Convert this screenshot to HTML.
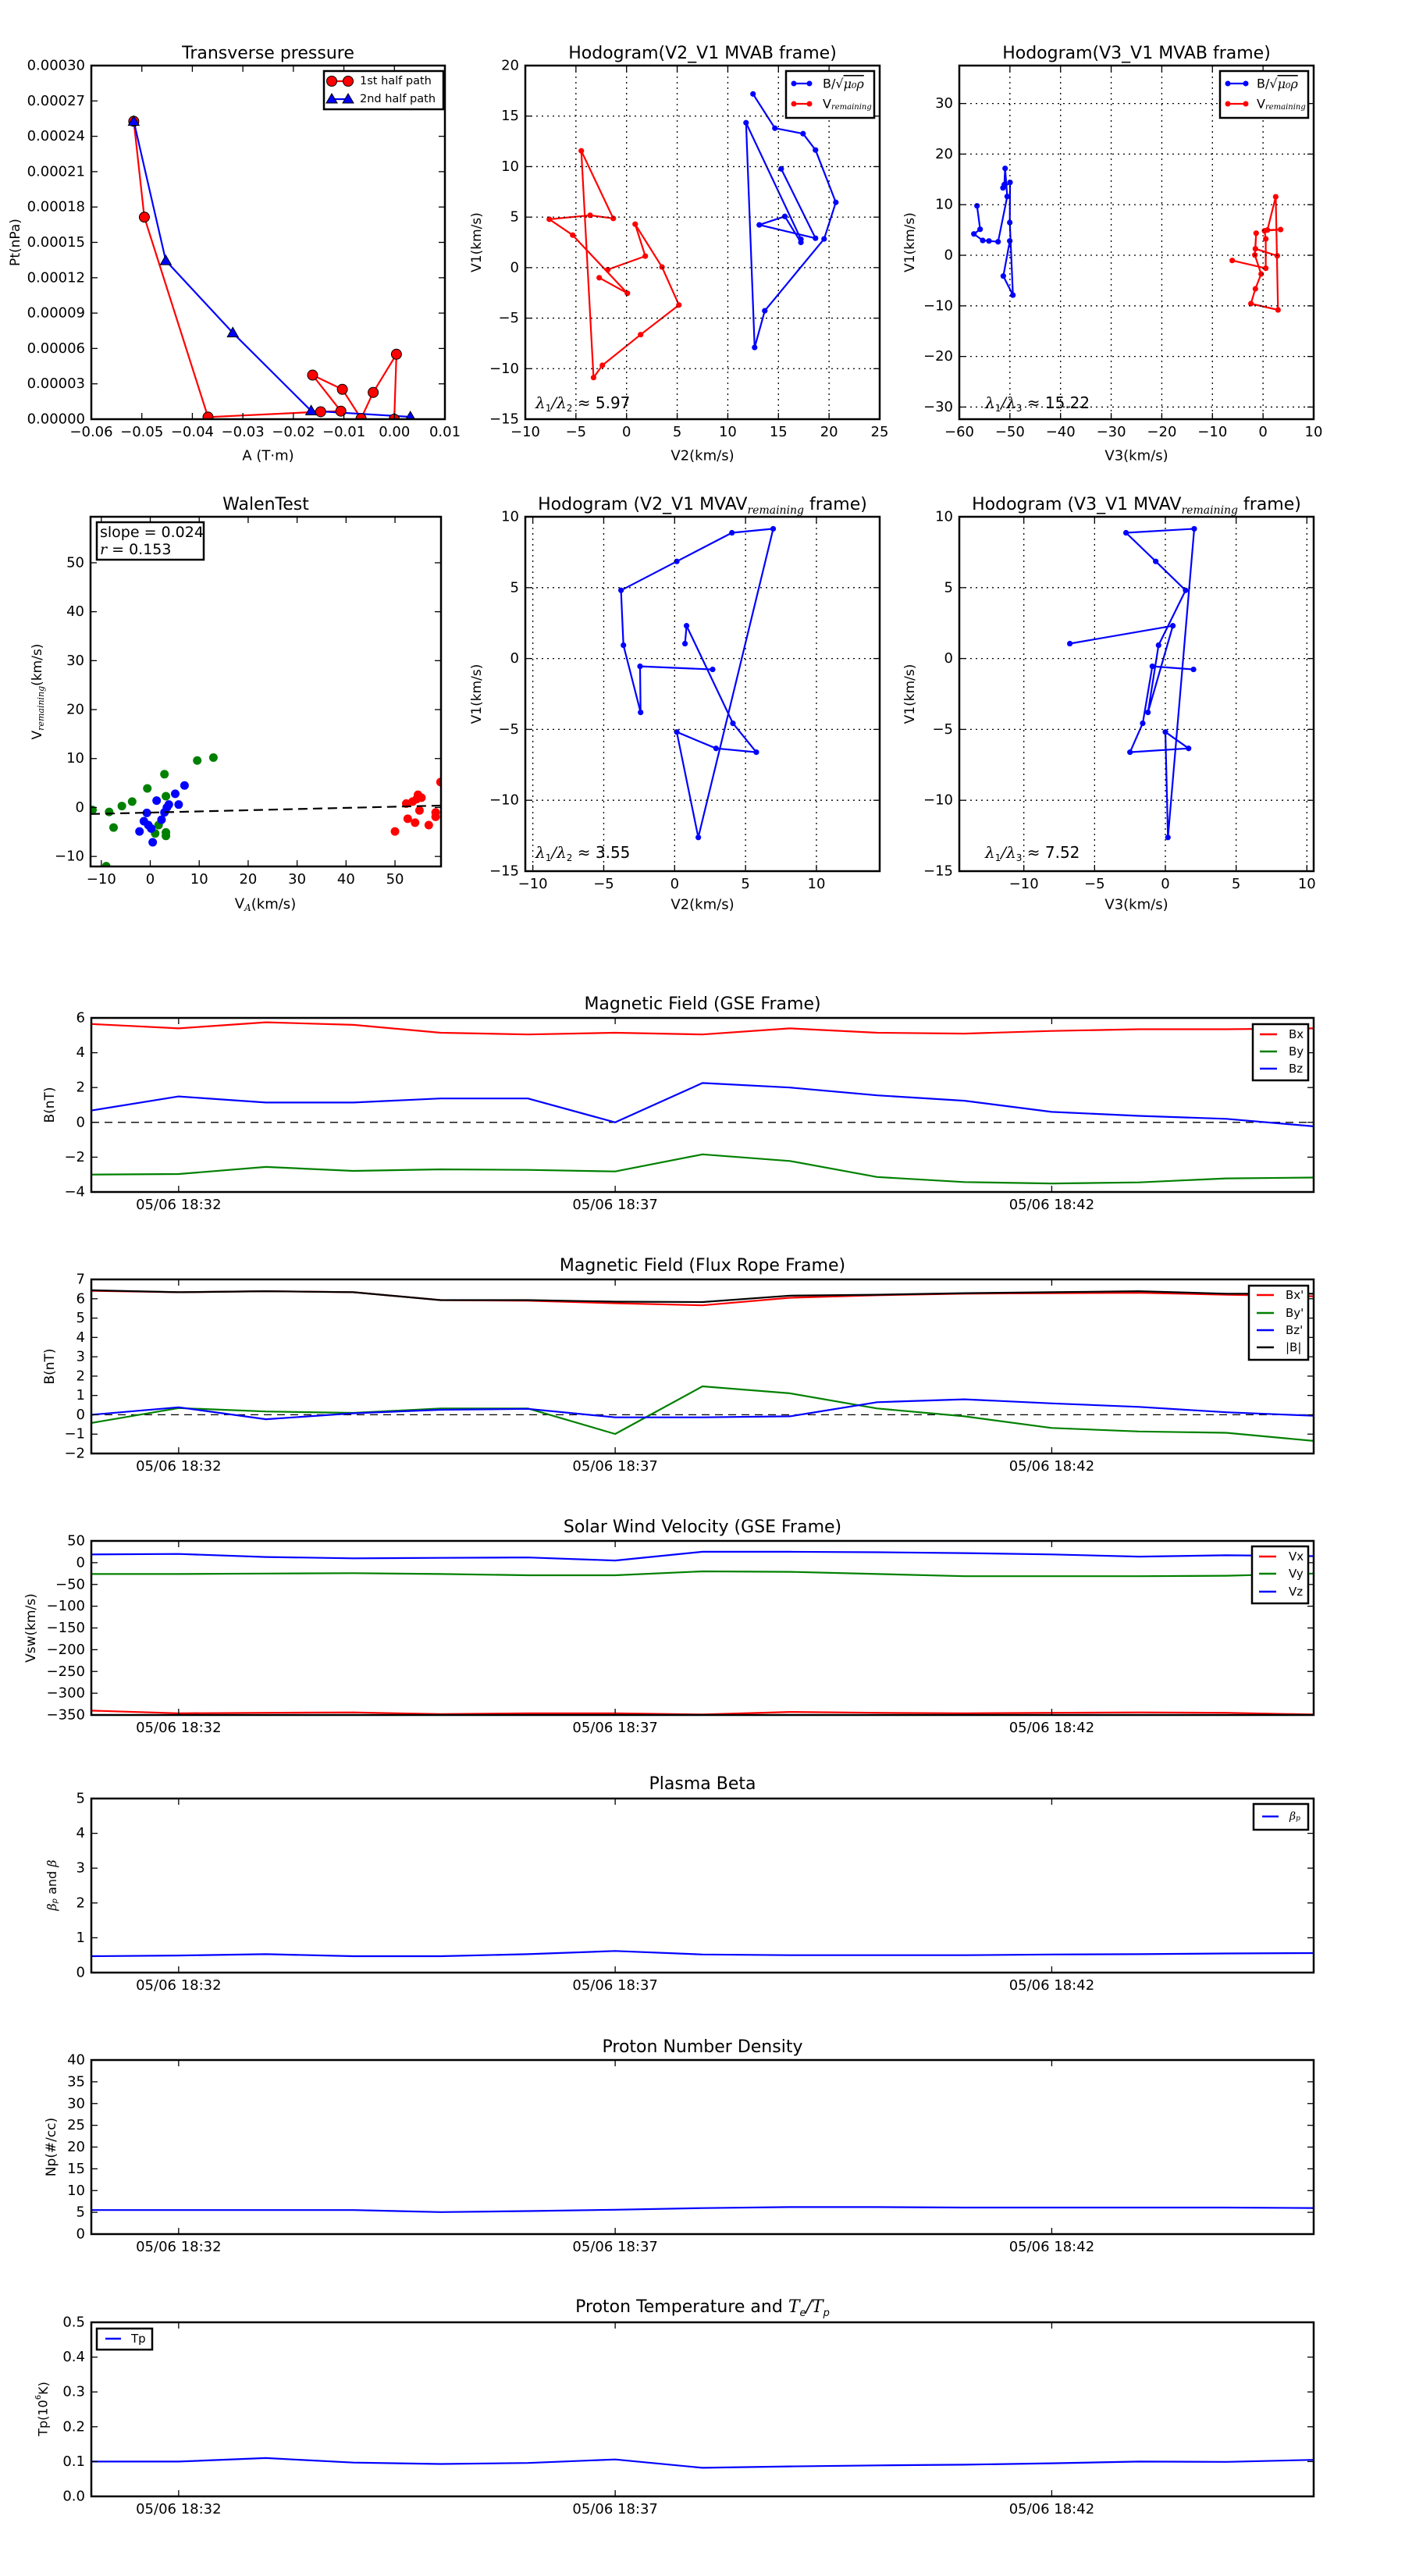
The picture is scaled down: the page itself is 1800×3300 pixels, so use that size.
<!DOCTYPE html>
<html><head><meta charset="utf-8"><title>Flux rope analysis</title>
<style>
html,body{margin:0;padding:0;background:#fff;}
svg{display:block;font-family:"DejaVu Sans","Liberation Sans",sans-serif;}
</style></head>
<body>
<svg id="chart" xmlns="http://www.w3.org/2000/svg" width="1800" height="3300" viewBox="0 0 1800 3300">
<rect x="0" y="0" width="1800" height="3300" fill="#fff"/>
</svg>
<script>
// ---------- data ----------
const tpA1 = [-0.0516,-0.0495,-0.0369,-0.0146,-0.0106,-0.0162,-0.0103,-0.0066,-0.0042,0.0004,-0.00003];
const tpP1 = [0.0002527,0.0001714,0.0000018,0.0000063,0.0000068,0.0000374,0.0000253,0.0000005,0.0000227,0.0000551,0.0];
const tpA2 = [-0.0516,-0.04526,-0.0320,-0.01648,0.00316];
const tpP2 = [0.0002527,0.0001345,0.0000733,0.0000071,0.0000020];

const h1BlueX = [12.49,14.65,17.43,18.66,20.67,19.51,13.65,12.65,11.8,17.22,17.22,15.63,13.11,18.66,15.27];
const h1BlueY = [17.19,13.8,13.26,11.64,6.46,2.84,-4.27,-7.9,14.34,2.81,2.5,5.07,4.23,2.91,9.78];
const h1RedX = [-2.7,0.08,-5.32,-7.63,-3.6,-1.31,-4.47,-3.26,-2.39,1.39,5.17,3.5,0.85,1.85,-1.85];
const h1RedY = [-1.0,-2.54,3.22,4.79,5.18,4.87,11.56,-10.88,-9.67,-6.63,-3.7,0.06,4.3,1.14,-0.2];

const h2BlueX = [-56.5,-55.89,-57.12,-55.37,-54.14,-52.34,-50.54,-50.95,-51.11,-51.37,-49.98,-50.03,-49.41,-51.31,-50.03];
const h2BlueY = [9.77,5.14,4.22,2.93,2.83,2.67,11.62,17.17,13.98,13.32,14.4,6.48,-7.87,-4.11,2.83];
const h2RedX = [-6.09,0.54,0.54,0.29,3.47,0.85,2.5,2.96,-2.39,-1.51,-0.38,-1.62,-1.36,-1.51,2.81];
const h2RedY = [-1.03,-2.57,3.24,4.83,5.09,4.99,11.57,-10.8,-9.56,-6.63,-3.7,0.05,4.37,1.29,-0.1];

const walGreenX = [-11.8,-8.4,-7.5,-5.8,-3.7,-0.6,2.9,3.2,1.7,1.0,3.2,3.2,9.6,12.9,-9.0];
const walGreenY = [-0.5,-0.9,-4.1,0.3,1.2,3.9,6.8,2.3,-3.6,-5.3,-5.1,-5.8,9.6,10.2,-12.0];
const walBlueX = [-2.2,-1.3,-0.7,-0.4,0.2,0.5,1.3,2.3,2.9,3.4,3.8,5.1,5.8,7.0];
const walBlueY = [-4.9,-2.8,-1.1,-3.6,-4.3,-7.1,1.4,-2.5,-1.0,0.0,0.6,2.8,0.6,4.5];
const walRedX = [50.0,52.3,52.6,53.6,54.1,54.4,54.7,55.4,55.0,56.9,58.3,58.3,59.3];
const walRedY = [-4.9,0.8,-2.3,1.2,-3.1,1.7,2.6,2.0,-0.6,-3.6,-1.0,-1.9,5.2];
const walSlope = 0.024;
const walIntercept = -1.04;

const h3X = [0.73,0.84,4.11,5.76,2.92,0.15,1.67,6.95,4.04,0.15,-3.78,-3.61,-2.4,-2.44,2.68];
const h3Y = [1.05,2.31,-4.57,-6.61,-6.34,-5.18,-12.62,9.15,8.87,6.85,4.81,0.94,-3.8,-0.55,-0.77];
const h4X = [-6.75,0.53,-1.23,-0.48,1.43,-0.68,-2.78,2.04,0.18,0.0,1.64,-2.5,-1.6,-0.92,1.99];
const h4Y = [1.05,2.31,-3.8,0.94,4.81,6.85,8.87,9.15,-12.62,-5.18,-6.34,-6.61,-4.57,-0.55,-0.77];

const times = ['18:31','18:32','18:33','18:34','18:35','18:36','18:37','18:38','18:39','18:40','18:41','18:42','18:43','18:44','18:45'];
const timeTickLabels = ['05/06 18:32','05/06 18:37','05/06 18:42'];
const timeTickIdx = [1,6,11];
const bx = [5.65,5.4,5.75,5.6,5.15,5.05,5.15,5.05,5.4,5.15,5.1,5.25,5.35,5.35,5.4];
const by = [-3.0,-2.97,-2.56,-2.79,-2.7,-2.73,-2.82,-1.84,-2.22,-3.14,-3.43,-3.51,-3.45,-3.22,-3.17];
const bz = [0.68,1.49,1.14,1.14,1.37,1.37,0.0,2.26,2.0,1.55,1.24,0.6,0.37,0.2,-0.23];
const bxp = [6.41,6.34,6.39,6.34,5.93,5.9,5.77,5.66,6.05,6.18,6.26,6.29,6.31,6.21,6.13];
const byp = [-0.42,0.35,0.17,0.1,0.33,0.33,-0.99,1.47,1.11,0.33,-0.08,-0.68,-0.86,-0.93,-1.35];
const bzp = [0.0,0.39,-0.23,0.08,0.26,0.31,-0.13,-0.13,-0.08,0.65,0.8,0.59,0.41,0.13,-0.05];
const bmag = [6.44,6.34,6.39,6.34,5.93,5.93,5.85,5.83,6.16,6.21,6.29,6.34,6.39,6.26,6.26];
const vx = [-340,-346,-345,-344,-348,-346,-346,-349,-343,-345,-346,-345,-344,-345,-349];
const vy = [-26,-26,-25,-24,-26,-29,-29,-20,-21,-26,-31,-31,-31,-30,-25];
const vz = [19,20,13,10,11,12,5,25,25,24,22,19,14,17,15];
const betaP = [0.47,0.49,0.53,0.47,0.47,0.53,0.62,0.52,0.5,0.5,0.5,0.52,0.53,0.55,0.56];
const np = [5.52,5.52,5.52,5.52,5.06,5.3,5.6,5.98,6.2,6.2,6.1,6.1,6.1,6.1,6.0];
const tp = [0.1,0.1,0.11,0.097,0.093,0.096,0.106,0.082,0.086,0.089,0.091,0.095,0.1,0.099,0.105];

// ---------- helpers ----------
const NS = 'http://www.w3.org/2000/svg';
const root = document.getElementById('chart');
let clipId = 0;
function mk(tag, attrs, name, parent) {
  const e = document.createElementNS(NS, tag);
  for (const k in attrs) e.setAttribute(k, attrs[k]);
  
  
  (parent || root).appendChild(e);
  return e;
}
function txt(s, x, y, opts, name, parent) {
  const t = mk('text', Object.assign({x: x, y: y, 'font-size': 18, fill: '#000'}, opts || {}), name, parent);
  t.textContent = s;
  return t;
}
function fmtMinus(v, d) { const s = v.toFixed(d); return s.replace('-', '\u2212'); }

function makeAxes(name, x, y, w, h, xmin, xmax, ymin, ymax) {
  const g = mk('g', {}, name);
  const ax = {g: g, x: x, y: y, w: w, h: h, name: name};
  ax.sx = v => x + (v - xmin) / (xmax - xmin) * w;
  ax.sy = v => y + h - (v - ymin) / (ymax - ymin) * h;
  clipId++;
  const defs = mk('defs', {}, name + '-defs', g);
  const cp = mk('clipPath', {id: 'clip' + clipId}, name + '-clip', defs);
  mk('rect', {x: x, y: y, width: w, height: h}, name + '-clip-rect', cp);
  ax.plot = mk('g', {'clip-path': 'url(#clip' + clipId + ')'}, name + '-plot-area', g);
  return ax;
}
function frame(ax) {
  mk('rect', {x: ax.x, y: ax.y, width: ax.w, height: ax.h, fill: 'none', stroke: '#000', 'stroke-width': 2.5}, ax.name + '-frame', ax.g);
}
function xTicks(ax, vals, labels, grid) {
  vals.forEach((v, i) => {
    const px = ax.sx(v);
    if (grid) mk('line', {x1: px, y1: ax.y, x2: px, y2: ax.y + ax.h, stroke: '#000', 'stroke-width': 1.3, 'stroke-dasharray': '2,5'}, ax.name + '-x-grid', ax.g);
    mk('line', {x1: px, y1: ax.y + ax.h, x2: px, y2: ax.y + ax.h - 8, stroke: '#000', 'stroke-width': 1.3}, ax.name + '-x-tick', ax.g);
    mk('line', {x1: px, y1: ax.y, x2: px, y2: ax.y + 8, stroke: '#000', 'stroke-width': 1.3}, ax.name + '-x-tick-top', ax.g);
    txt(labels[i], px, ax.y + ax.h + 9, {'text-anchor': 'middle', 'dominant-baseline': 'hanging'}, ax.name + '-x-tick-label', ax.g);
  });
}
function yTicks(ax, vals, labels, grid) {
  vals.forEach((v, i) => {
    const py = ax.sy(v);
    if (grid) mk('line', {x1: ax.x, y1: py, x2: ax.x + ax.w, y2: py, stroke: '#000', 'stroke-width': 1.3, 'stroke-dasharray': '2,5'}, ax.name + '-y-grid', ax.g);
    mk('line', {x1: ax.x, y1: py, x2: ax.x + 8, y2: py, stroke: '#000', 'stroke-width': 1.3}, ax.name + '-y-tick', ax.g);
    mk('line', {x1: ax.x + ax.w, y1: py, x2: ax.x + ax.w - 8, y2: py, stroke: '#000', 'stroke-width': 1.3}, ax.name + '-y-tick-right', ax.g);
    txt(labels[i], ax.x - 8, py, {'text-anchor': 'end', 'dominant-baseline': 'central'}, ax.name + '-y-tick-label', ax.g);
  });
}
function title(ax, s, by) {
  return txt(s, ax.x + ax.w / 2, by, {'text-anchor': 'middle', 'font-size': 22}, ax.name + '-title', ax.g);
}
function ylabel(ax, s, cx) {
  const cy = ax.y + ax.h / 2;
  return txt(s, cx, cy, {'text-anchor': 'middle', 'dominant-baseline': 'central', 'font-size': 17, transform: 'rotate(-90 ' + cx + ' ' + cy + ')'}, ax.name + '-y-axis-title', ax.g);
}
function xlabel(ax, s, cy) {
  return txt(s, ax.x + ax.w / 2, cy, {'text-anchor': 'middle', 'dominant-baseline': 'central', 'font-size': 18}, ax.name + '-x-axis-title', ax.g);
}
function line(ax, xs, ys, color, name, extra) {
  const pts = xs.map((v, i) => ax.sx(v).toFixed(1) + ',' + ax.sy(ys[i]).toFixed(1)).join(' ');
  return mk('polyline', Object.assign({points: pts, fill: 'none', stroke: color, 'stroke-width': 2.2, 'stroke-linejoin': 'round'}, extra || {}), name, ax.plot);
}
function dots(ax, xs, ys, color, r, name, edge) {
  xs.forEach((v, i) => {
    const c = mk('circle', {cx: ax.sx(v), cy: ax.sy(ys[i]), r: r, fill: color}, name, ax.plot);
    if (edge) { c.setAttribute('stroke', '#000'); c.setAttribute('stroke-width', 1); }
  });
}
function tris(ax, xs, ys, color, s, name) {
  xs.forEach((v, i) => {
    const cx = ax.sx(v), cy = ax.sy(ys[i]);
    mk('polygon', {points: cx + ',' + (cy - s) + ' ' + (cx - s) + ',' + (cy + s * 0.75) + ' ' + (cx + s) + ',' + (cy + s * 0.75), fill: color, stroke: '#000', 'stroke-width': 1}, name, ax.plot);
  });
}
function range(a, b, st) { const r = []; for (let v = a; v <= b + 1e-9; v += st) r.push(Math.round(v * 1e6) / 1e6); return r; }
function legendBox(ax, x, y, w, h) {
  return mk('rect', {x: x, y: y, width: w, height: h, fill: '#fff', stroke: '#000', 'stroke-width': 2.5}, ax.name + '-legend-box', ax.g);
}

// ---------- Transverse pressure ----------
(function () {
  const ax = makeAxes('transverse-pressure-chart', 117, 84, 453, 453, -0.06, 0.01, 0, 0.0003);
  const xt = range(-0.06, 0.01, 0.01), yt = range(0, 0.0003, 0.00003);
  xTicks(ax, xt, xt.map(v => fmtMinus(v, 2)), false);
  yTicks(ax, yt, yt.map(v => v.toFixed(5)), false);
  line(ax, tpA1, tpP1, '#ff0000', 'first-half-path-line');
  line(ax, tpA2, tpP2, '#0000ff', 'second-half-path-line');
  dots(ax, tpA1, tpP1, '#ff0000', 6.5, 'first-half-marker', true);
  tris(ax, tpA2, tpP2, '#0000ff', 7, 'second-half-marker');
  frame(ax);
  title(ax, 'Transverse pressure', 75);
  ylabel(ax, 'Pt(nPa)', 20);
  xlabel(ax, 'A (T\u00b7m)', 584);
  legendBox(ax, 415, 91, 153, 49);
  mk('line', {x1: 425, y1: 104, x2: 446, y2: 104, stroke: '#ff0000', 'stroke-width': 2.2}, 'legend-first-half-line', ax.g);
  mk('circle', {cx: 425, cy: 104, r: 6.5, fill: '#ff0000', stroke: '#000'}, 'legend-first-half-marker', ax.g);
  mk('circle', {cx: 446, cy: 104, r: 6.5, fill: '#ff0000', stroke: '#000'}, 'legend-first-half-marker', ax.g);
  txt('1st half path', 461, 104, {'dominant-baseline': 'central', 'font-size': 14.5}, 'legend-first-half-label', ax.g);
  mk('line', {x1: 425, y1: 127, x2: 446, y2: 127, stroke: '#0000ff', 'stroke-width': 2.2}, 'legend-second-half-line', ax.g);
  [425, 446].forEach(cx => {
    mk('polygon', {points: cx + ',120 ' + (cx - 7) + ',132 ' + (cx + 7) + ',132', fill: '#0000ff', stroke: '#000'}, 'legend-second-half-marker', ax.g);
  });
  txt('2nd half path', 461, 127, {'dominant-baseline': 'central', 'font-size': 14.5}, 'legend-second-half-label', ax.g);
})();

function hodoLegend(ax, bx0, lx1, lx2, tx) {
  legendBox(ax, bx0, 91, 113, 60);
  mk('line', {x1: lx1, y1: 107, x2: lx2, y2: 107, stroke: '#0000ff', 'stroke-width': 2.2}, 'legend-b-line', ax.g);
  mk('circle', {cx: lx1, cy: 107, r: 3.5, fill: '#0000ff'}, 'legend-b-marker', ax.g);
  mk('circle', {cx: lx2, cy: 107, r: 3.5, fill: '#0000ff'}, 'legend-b-marker', ax.g);
  const t1 = txt('B/\u221a', tx, 107, {'dominant-baseline': 'central', 'font-size': 16}, 'legend-b-label', ax.g);
  const s1 = mk('tspan', {'font-style': 'italic', 'font-family': 'DejaVu Serif, Liberation Serif, serif', 'text-decoration': 'overline'}, 'legend-b-label-math', t1);
  s1.textContent = '\u03bc\u2080\u03c1';
  mk('line', {x1: lx1, y1: 133, x2: lx2, y2: 133, stroke: '#ff0000', 'stroke-width': 2.2}, 'legend-v-line', ax.g);
  mk('circle', {cx: lx1, cy: 133, r: 3.5, fill: '#ff0000'}, 'legend-v-marker', ax.g);
  mk('circle', {cx: lx2, cy: 133, r: 3.5, fill: '#ff0000'}, 'legend-v-marker', ax.g);
  const t2 = txt('V', tx, 133, {'dominant-baseline': 'central', 'font-size': 16}, 'legend-v-label', ax.g);
  const s2 = mk('tspan', {'font-style': 'italic', 'font-size': 10, dy: 4, 'font-family': 'DejaVu Serif, Liberation Serif, serif'}, 'legend-v-label-sub', t2);
  s2.textContent = 'remaining';
}
function lambdaText(ax, x, y, sub2, val) {
  const t = txt('', x, y, {'font-size': 20}, ax.name + '-eigen-ratio', ax.g);
  const a = mk('tspan', {'font-style': 'italic', 'font-family': 'DejaVu Serif, Liberation Serif, serif'}, 'lambda-1', t); a.textContent = '\u03bb';
  const b = mk('tspan', {'font-size': 12, dy: 4}, 'lambda-1-sub', t); b.textContent = '1';
  const c = mk('tspan', {dy: -4, 'font-family': 'DejaVu Serif, serif', 'font-style': 'italic'}, 'lambda-slash', t); c.textContent = '/\u03bb';
  const d = mk('tspan', {'font-size': 12, dy: 4}, 'lambda-2-sub', t); d.textContent = sub2;
  const e = mk('tspan', {dy: -4}, 'lambda-value', t); e.textContent = ' \u2248 ' + val;
}

// ---------- Hodogram V2_V1 MVAB ----------
(function () {
  const ax = makeAxes('hodogram-v2-v1-mvab', 673, 84, 454, 453, -10, 25, -15, 20);
  const xt = range(-10, 25, 5), yt = range(-15, 20, 5);
  xTicks(ax, xt, xt.map(v => fmtMinus(v, 0)), true);
  yTicks(ax, yt, yt.map(v => fmtMinus(v, 0)), true);
  line(ax, h1BlueX, h1BlueY, '#0000ff', 'b-hodogram-line');
  dots(ax, h1BlueX, h1BlueY, '#0000ff', 3.6, 'b-hodogram-point');
  line(ax, h1RedX, h1RedY, '#ff0000', 'v-hodogram-line');
  dots(ax, h1RedX, h1RedY, '#ff0000', 3.6, 'v-hodogram-point');
  frame(ax);
  title(ax, 'Hodogram(V2_V1 MVAB frame)', 75);
  ylabel(ax, 'V1(km/s)', 611);
  xlabel(ax, 'V2(km/s)', 584);
  hodoLegend(ax, 1007, 1017, 1037, 1054);
  lambdaText(ax, 686, 523, '2', '5.97');
})();

// ---------- Hodogram V3_V1 MVAB ----------
(function () {
  const ax = makeAxes('hodogram-v3-v1-mvab', 1229, 84, 454, 453, -60, 10, -32.4, 37.5);
  const xt = range(-60, 10, 10), yt = range(-30, 30, 10);
  xTicks(ax, xt, xt.map(v => fmtMinus(v, 0)), true);
  yTicks(ax, yt, yt.map(v => fmtMinus(v, 0)), true);
  line(ax, h2BlueX, h2BlueY, '#0000ff', 'b-hodogram-line');
  dots(ax, h2BlueX, h2BlueY, '#0000ff', 3.6, 'b-hodogram-point');
  line(ax, h2RedX, h2RedY, '#ff0000', 'v-hodogram-line');
  dots(ax, h2RedX, h2RedY, '#ff0000', 3.6, 'v-hodogram-point');
  frame(ax);
  title(ax, 'Hodogram(V3_V1 MVAB frame)', 75);
  ylabel(ax, 'V1(km/s)', 1166);
  xlabel(ax, 'V3(km/s)', 584);
  hodoLegend(ax, 1563, 1573, 1596, 1610);
  lambdaText(ax, 1262, 523, '3', '15.22');
})();

// ---------- Walen test ----------
(function () {
  const ax = makeAxes('walen-test-chart', 116, 662, 449, 448, -12.2, 59.4, -12.05, 59.4);
  const xt = range(-10, 50, 10), yt = range(-10, 50, 10);
  xTicks(ax, xt, xt.map(v => fmtMinus(v, 0)), false);
  yTicks(ax, yt, yt.map(v => fmtMinus(v, 0)), false);
  dots(ax, walGreenX, walGreenY, '#008000', 5.5, 'walen-point-green');
  dots(ax, walBlueX, walBlueY, '#0000ff', 5.5, 'walen-point-blue');
  dots(ax, walRedX, walRedY, '#ff0000', 5.5, 'walen-point-red');
  line(ax, [-12.2, 59.4], [walSlope * -12.2 + walIntercept, walSlope * 59.4 + walIntercept], '#000', 'walen-fit-line', {'stroke-dasharray': '12,7'});
  frame(ax);
  title(ax, 'WalenTest', 653);
  const cx = 48, cy = 662 + 224;
  const yl = txt('V', cx, cy, {'text-anchor': 'middle', 'dominant-baseline': 'central', 'font-size': 17, transform: 'rotate(-90 ' + cx + ' ' + cy + ')'}, 'walen-y-axis-title', ax.g);
  const ys = mk('tspan', {'font-style': 'italic', 'font-size': 11, dy: 4, 'font-family': 'DejaVu Serif, serif'}, 'walen-y-axis-title-sub', yl); ys.textContent = 'remaining';
  const ye = mk('tspan', {dy: -4}, 'walen-y-axis-title-unit', yl); ye.textContent = '(km/s)';
  const xl = txt('V', 116 + 224, 1158, {'text-anchor': 'middle', 'dominant-baseline': 'central', 'font-size': 18}, 'walen-x-axis-title', ax.g);
  const xs = mk('tspan', {'font-style': 'italic', 'font-size': 12, dy: 5, 'font-family': 'DejaVu Serif, serif'}, 'walen-x-axis-title-sub', xl); xs.textContent = 'A';
  const xe = mk('tspan', {dy: -5}, 'walen-x-axis-title-unit', xl); xe.textContent = '(km/s)';
  legendBox(ax, 124, 669, 137, 48);
  txt('slope = ' + walSlope.toFixed(3), 128, 682, {'dominant-baseline': 'central', 'font-size': 19}, 'walen-slope-label', ax.g);
  const rt = txt('', 128, 704, {'dominant-baseline': 'central', 'font-size': 19}, 'walen-r-label', ax.g);
  const r1 = mk('tspan', {'font-style': 'italic', 'font-family': 'DejaVu Serif, serif'}, 'walen-r-symbol', rt); r1.textContent = 'r';
  const r2 = mk('tspan', {}, 'walen-r-value', rt); r2.textContent = ' = 0.153';
})();

// ---------- Hodogram V2_V1 MVAV ----------
function mvavTitle(ax, a) {
  const t = title(ax, 'Hodogram (' + a + '_V1 MVAV', 653);
  const s = mk('tspan', {'font-style': 'italic', 'font-size': 14, dy: 5, 'font-family': 'DejaVu Serif, serif'}, ax.name + '-title-sub', t); s.textContent = 'remaining';
  const e = mk('tspan', {dy: -5}, ax.name + '-title-end', t); e.textContent = ' frame)';
}
(function () {
  const ax = makeAxes('hodogram-v2-v1-mvav', 673, 662, 454, 454, -10.53, 14.46, -15, 10);
  const xt = range(-10, 10, 5), yt = range(-15, 10, 5);
  xTicks(ax, xt, xt.map(v => fmtMinus(v, 0)), true);
  yTicks(ax, yt, yt.map(v => fmtMinus(v, 0)), true);
  line(ax, h3X, h3Y, '#0000ff', 'mvav-hodogram-line');
  dots(ax, h3X, h3Y, '#0000ff', 3.6, 'mvav-hodogram-point');
  frame(ax);
  mvavTitle(ax, 'V2');
  ylabel(ax, 'V1(km/s)', 611);
  xlabel(ax, 'V2(km/s)', 1159);
  lambdaText(ax, 686, 1099, '2', '3.55');
})();
(function () {
  const ax = makeAxes('hodogram-v3-v1-mvav', 1229, 662, 454, 454, -14.56, 10.48, -15, 10);
  const xt = range(-10, 10, 5), yt = range(-15, 10, 5);
  xTicks(ax, xt, xt.map(v => fmtMinus(v, 0)), true);
  yTicks(ax, yt, yt.map(v => fmtMinus(v, 0)), true);
  line(ax, h4X, h4Y, '#0000ff', 'mvav-hodogram-line');
  dots(ax, h4X, h4Y, '#0000ff', 3.6, 'mvav-hodogram-point');
  frame(ax);
  mvavTitle(ax, 'V3');
  ylabel(ax, 'V1(km/s)', 1166);
  xlabel(ax, 'V3(km/s)', 1159);
  lambdaText(ax, 1262, 1099, '3', '7.52');
})();

// ---------- time series ----------
const tIdx = times.map((t, i) => i);
function timeAxes(name, y, ymin, ymax, ytv, ylab, dec, ttl, tby, ylx) {
  const ax = makeAxes(name, 117, y, 1566, 223, 0, times.length - 1, ymin, ymax);
  xTicks(ax, timeTickIdx, timeTickLabels, false);
  yTicks(ax, ytv, ytv.map(v => fmtMinus(v, dec)), false);
  title(ax, ttl, tby);
  ylabel(ax, ylab, ylx);
  return ax;
}
function tLegend(ax, x, y, w, h, entries, ys, lx1, lx2, tx) {
  legendBox(ax, x, y, w, h);
  entries.forEach((en, i) => {
    mk('line', {x1: lx1, y1: ys[i], x2: lx2, y2: ys[i], stroke: en[1], 'stroke-width': 2.5}, 'legend-' + en[2] + '-line', ax.g);
    txt(en[0], tx, ys[i], {'dominant-baseline': 'central', 'font-size': 15}, 'legend-' + en[2] + '-label', ax.g);
  });
}
(function () {
  const ax = timeAxes('magnetic-field-gse-chart', 1304, -4, 6, range(-4, 6, 2), 'B(nT)', 0, 'Magnetic Field (GSE Frame)', 1293, 64);
  line(ax, [0, 14], [0, 0], '#000', 'zero-line', {'stroke-width': 1.3, 'stroke-dasharray': '10,7'});
  line(ax, tIdx, bx, '#ff0000', 'bx-line');
  line(ax, tIdx, by, '#008000', 'by-line');
  line(ax, tIdx, bz, '#0000ff', 'bz-line');
  frame(ax);
  tLegend(ax, 1605, 1312, 71, 72, [['Bx', '#ff0000', 'bx'], ['By', '#008000', 'by'], ['Bz', '#0000ff', 'bz']], [1325, 1347, 1369], 1614, 1636, 1651);
})();
(function () {
  const ax = timeAxes('magnetic-field-flux-rope-chart', 1639, -2, 7, range(-2, 7, 1), 'B(nT)', 0, 'Magnetic Field (Flux Rope Frame)', 1628, 64);
  line(ax, [0, 14], [0, 0], '#000', 'zero-line', {'stroke-width': 1.3, 'stroke-dasharray': '10,7'});
  line(ax, tIdx, bxp, '#ff0000', 'bx-prime-line');
  line(ax, tIdx, byp, '#008000', 'by-prime-line');
  line(ax, tIdx, bzp, '#0000ff', 'bz-prime-line');
  line(ax, tIdx, bmag, '#000000', 'b-magnitude-line');
  frame(ax);
  tLegend(ax, 1600, 1647, 76, 95, [["Bx'", '#ff0000', 'bx-prime'], ["By'", '#008000', 'by-prime'], ["Bz'", '#0000ff', 'bz-prime'], ['|B|', '#000', 'b-magnitude']], [1659, 1682, 1704, 1726], 1610, 1632, 1647);
})();
(function () {
  const ax = timeAxes('solar-wind-velocity-chart', 1974, -350, 50, range(-350, 50, 50), 'Vsw(km/s)', 0, 'Solar Wind Velocity (GSE Frame)', 1963, 40);
  line(ax, tIdx, vx, '#ff0000', 'vx-line');
  line(ax, tIdx, vy, '#008000', 'vy-line');
  line(ax, tIdx, vz, '#0000ff', 'vz-line');
  frame(ax);
  tLegend(ax, 1604, 1981, 72, 73, [['Vx', '#ff0000', 'vx'], ['Vy', '#008000', 'vy'], ['Vz', '#0000ff', 'vz']], [1994, 2016, 2039], 1613, 1635, 1651);
})();
(function () {
  const ax = makeAxes('plasma-beta-chart', 117, 2304, 1566, 223, 0, times.length - 1, 0, 5);
  xTicks(ax, timeTickIdx, timeTickLabels, false);
  const yt = range(0, 5, 1);
  yTicks(ax, yt, yt.map(v => v.toFixed(0)), false);
  title(ax, 'Plasma Beta', 2292);
  const cx = 66, cy = 2304 + 111;
  const t = txt('', cx, cy, {'text-anchor': 'middle', 'dominant-baseline': 'central', 'font-size': 16, transform: 'rotate(-90 ' + cx + ' ' + cy + ')'}, 'plasma-beta-y-axis-title', ax.g);
  const a = mk('tspan', {'font-style': 'italic', 'font-family': 'DejaVu Serif, serif'}, 'beta-p-symbol', t); a.textContent = '\u03b2';
  const b = mk('tspan', {'font-size': 10, dy: 4, 'font-style': 'italic'}, 'beta-p-sub', t); b.textContent = 'p';
  const c = mk('tspan', {dy: -4}, 'beta-and', t); c.textContent = ' and ';
  const d = mk('tspan', {'font-style': 'italic', 'font-family': 'DejaVu Serif, serif'}, 'beta-symbol', t); d.textContent = '\u03b2';
  line(ax, tIdx, betaP, '#0000ff', 'beta-p-line');
  frame(ax);
  legendBox(ax, 1606, 2311, 70, 33);
  mk('line', {x1: 1617, y1: 2327, x2: 1638, y2: 2327, stroke: '#0000ff', 'stroke-width': 2.5}, 'legend-beta-p-line', ax.g);
  const lt = txt('\u03b2', 1652, 2327, {'dominant-baseline': 'central', 'font-size': 14, 'font-style': 'italic', 'font-family': 'DejaVu Serif, serif'}, 'legend-beta-p-label', ax.g);
  const ls = mk('tspan', {'font-size': 9, dy: 3}, 'legend-beta-p-sub', lt); ls.textContent = 'p';
})();
(function () {
  const ax = timeAxes('proton-density-chart', 2639, 0, 40, range(0, 40, 5), 'Np(#/cc)', 0, 'Proton Number Density', 2629, 66);
  line(ax, tIdx, np, '#0000ff', 'np-line');
  frame(ax);
})();
(function () {
  const ax = makeAxes('proton-temperature-chart', 117, 2975, 1566, 223, 0, times.length - 1, 0, 0.5);
  xTicks(ax, timeTickIdx, timeTickLabels, false);
  const yt = range(0, 0.5, 0.1);
  yTicks(ax, yt, yt.map(v => v.toFixed(1)), false);
  const t = title(ax, 'Proton Temperature and ', 2962);
  const a = mk('tspan', {'font-style': 'italic', 'font-family': 'DejaVu Serif, serif'}, 'te-symbol', t); a.textContent = 'T';
  const b = mk('tspan', {'font-size': 13, dy: 5, 'font-style': 'italic'}, 'te-sub', t); b.textContent = 'e';
  const c = mk('tspan', {dy: -5, 'font-style': 'italic', 'font-family': 'DejaVu Serif, serif'}, 'tp-symbol', t); c.textContent = '/T';
  const d = mk('tspan', {'font-size': 13, dy: 5, 'font-style': 'italic'}, 'tp-sub', t); d.textContent = 'p';
  const cx = 55, cy = 2975 + 111;
  const yl = txt('Tp(10', cx, cy, {'text-anchor': 'middle', 'dominant-baseline': 'central', 'font-size': 16, transform: 'rotate(-90 ' + cx + ' ' + cy + ')'}, 'proton-temperature-y-axis-title', ax.g);
  const s1 = mk('tspan', {'font-size': 10, dy: -6}, 'tp-exponent', yl); s1.textContent = '6';
  const s2 = mk('tspan', {dy: 6}, 'tp-unit', yl); s2.textContent = 'K)';
  line(ax, tIdx, tp, '#0000ff', 'tp-line');
  frame(ax);
  legendBox(ax, 124, 2983, 71, 27);
  mk('line', {x1: 135, y1: 2996, x2: 155, y2: 2996, stroke: '#0000ff', 'stroke-width': 2.5}, 'legend-tp-line', ax.g);
  txt('Tp', 168, 2996, {'dominant-baseline': 'central', 'font-size': 15}, 'legend-tp-label', ax.g);
})();
</script>
</body></html>
